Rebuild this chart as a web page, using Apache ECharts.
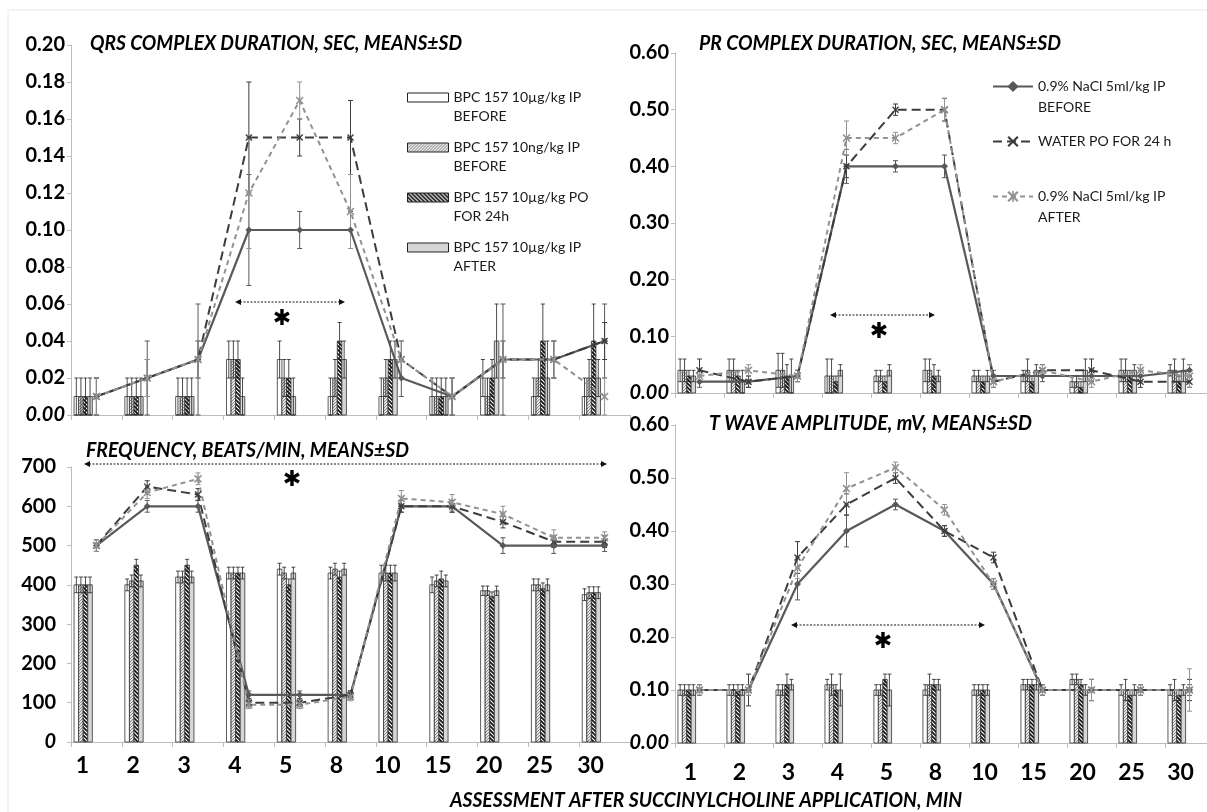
<!DOCTYPE html>
<html><head><meta charset="utf-8">
<script src="https://cdn.jsdelivr.net/npm/echarts@6/dist/echarts.min.js"></script>
<style>html,body{margin:0;padding:0;background:#fff}#c{width:1207px;height:812px}</style>
</head><body><div id="c"></div>
<script>
// ---------------- DATA ----------------
const categories = ['1','2','3','4','5','8','10','15','20','25','30'];
const barNames = ['BPC 157 10µg/kg IP BEFORE','BPC 157 10ng/kg IP BEFORE','BPC 157 10µg/kg PO FOR 24h','BPC 157 10µg/kg IP AFTER'];
const lineNames = ['0.9% NaCl 5ml/kg IP BEFORE','WATER PO FOR 24 h','0.9% NaCl 5ml/kg IP AFTER'];
const legendText = {
  'BPC 157 10µg/kg IP BEFORE':'\nBPC 157 10µg/kg IP\nBEFORE',
  'BPC 157 10ng/kg IP BEFORE':'\nBPC 157 10ng/kg IP\nBEFORE',
  'BPC 157 10µg/kg PO FOR 24h':'\nBPC 157 10µg/kg PO\nFOR 24h',
  'BPC 157 10µg/kg IP AFTER':'\nBPC 157 10µg/kg IP\nAFTER',
  '0.9% NaCl 5ml/kg IP BEFORE':'\n0.9% NaCl 5ml/kg IP\nBEFORE',
  'WATER PO FOR 24 h':'WATER PO FOR 24 h',
  '0.9% NaCl 5ml/kg IP AFTER':'\n0.9% NaCl 5ml/kg IP\nAFTER'
};
const panelTitles = ['QRS COMPLEX DURATION, SEC, MEANS±SD','PR COMPLEX DURATION, SEC, MEANS±SD','FREQUENCY, BEATS/MIN, MEANS±SD','T WAVE AMPLITUDE, mV, MEANS±SD'];
const xAxisTitle = 'ASSESSMENT AFTER SUCCINYLCHOLINE APPLICATION, MIN';

// QRS duration (sec)
const qrsBar1 = [0.01,0.01,0.01,0.03,0.03,0.01,0.01,0.01,0.02,0.01,0.01];
const qrsBar1Sd = [0.01,0.01,0.01,0.01,0.01,0.01,0.01,0.01,0.01,0.01,0.01];
const qrsBar2 = [0.01,0.01,0.01,0.03,0.02,0.02,0.02,0.01,0.01,0.02,0.02];
const qrsBar2Sd = [0.01,0.01,0.01,0.01,0.01,0.01,0.01,0.01,0.01,0.01,0.01];
const qrsBar3 = [0.01,0.01,0.01,0.03,0.02,0.04,0.03,0.01,0.02,0.04,0.04];
const qrsBar3Sd = [0.01,0.01,0.01,0.01,0.01,0.01,0.01,0.01,0.01,0.02,0.02];
const qrsBar4 = [0.01,0.01,0.01,0.01,0.01,0.03,0.03,0.01,0.04,0.02,0.02];
const qrsBar4Sd = [0.01,0.01,0.01,0.01,0.01,0.01,0.01,0.01,0.02,0.02,0.01];
const qrsLine1 = [0.01,0.02,0.03,0.10,0.10,0.10,0.02,0.01,0.03,0.03,0.04];
const qrsLine1Sd = [0.01,0.02,0.03,0.03,0.01,0.01,0.01,0.01,0.03,0.01,0.02];
const qrsLine2 = [0.01,0.02,0.03,0.15,0.15,0.15,0.03,0.01,0.03,0.03,0.04];
const qrsLine2Sd = [0.01,0.01,0.01,0.03,0.01,0.02,0.01,0.01,0.01,0.01,0.01];
const qrsLine3 = [0.01,0.02,0.03,0.12,0.17,0.11,0.03,0.01,0.03,0.03,0.01];
const qrsLine3Sd = [0.01,0.01,0.01,0.03,0.01,0.02,0.01,0.01,0.01,0.01,0.01];

// PR duration (sec)
const prBar1 = [0.04,0.04,0.04,0.03,0.03,0.04,0.03,0.03,0.02,0.04,0.04];
const prBar1Sd = [0.02,0.02,0.03,0.03,0.01,0.02,0.01,0.01,0.01,0.02,0.01];
const prBar2 = [0.04,0.04,0.04,0.03,0.03,0.04,0.03,0.04,0.02,0.04,0.04];
const prBar2Sd = [0.02,0.02,0.03,0.03,0.01,0.02,0.01,0.02,0.01,0.02,0.02];
const prBar3 = [0.03,0.03,0.03,0.02,0.02,0.03,0.02,0.02,0.01,0.03,0.02];
const prBar3Sd = [0.01,0.01,0.02,0.01,0.01,0.02,0.01,0.01,0.01,0.01,0.01];
const prBar4 = [0.03,0.02,0.03,0.04,0.04,0.03,0.03,0.04,0.04,0.04,0.04];
const prBar4Sd = [0.01,0.02,0.03,0.01,0.01,0.01,0.01,0.01,0.02,0.01,0.02];
const prLine1 = [0.02,0.02,0.03,0.40,0.40,0.40,0.03,0.03,0.03,0.03,0.04];
const prLine1Sd = [0.01,0.01,0.01,0.03,0.01,0.02,0.01,0.01,0.01,0.01,0.01];
const prLine2 = [0.04,0.02,0.03,0.40,0.50,0.50,0.02,0.04,0.04,0.02,0.02];
const prLine2Sd = [0.02,0.01,0.01,0.02,0.01,0.02,0.01,0.01,0.02,0.01,0.01];
const prLine3 = [0.03,0.04,0.03,0.45,0.45,0.50,0.02,0.04,0.02,0.04,0.03];
const prLine3Sd = [0.01,0.01,0.01,0.03,0.01,0.02,0.01,0.01,0.01,0.01,0.02];

// Frequency (beats/min)
const frBar1 = [400,400,420,430,440,430,430,400,385,400,375];
const frBar1Sd = [20,15,15,15,15,15,20,20,12,15,15];
const frBar2 = [400,410,420,430,430,440,430,410,385,400,380];
const frBar2Sd = [20,15,15,15,15,15,20,15,12,15,15];
const frBar3 = [400,450,450,430,400,420,430,415,370,390,380];
const frBar3Sd = [20,15,15,15,15,15,20,20,12,15,15];
const frBar4 = [400,410,420,430,430,440,430,410,385,400,380];
const frBar4Sd = [20,15,15,15,15,15,20,15,12,15,15];
const frLine1 = [500,600,600,120,120,120,600,600,500,500,500];
const frLine1Sd = [15,15,15,10,10,10,15,15,20,20,15];
const frLine2 = [500,650,630,100,100,120,600,600,560,510,510];
const frLine2Sd = [15,15,15,10,10,10,15,15,15,15,15];
const frLine3 = [500,635,670,95,95,115,620,610,580,520,520];
const frLine3Sd = [15,15,15,10,10,10,20,20,20,20,15];

// T wave amplitude (mV)
const twBar1 = [0.10,0.10,0.10,0.11,0.10,0.10,0.10,0.11,0.12,0.10,0.10];
const twBar1Sd = [0.01,0.01,0.01,0.01,0.01,0.01,0.01,0.01,0.01,0.01,0.01];
const twBar2 = [0.10,0.10,0.10,0.11,0.10,0.11,0.10,0.11,0.12,0.10,0.10];
const twBar2Sd = [0.01,0.01,0.01,0.02,0.01,0.02,0.01,0.01,0.01,0.02,0.02];
const twBar3 = [0.10,0.10,0.11,0.10,0.12,0.11,0.10,0.11,0.11,0.09,0.09];
const twBar3Sd = [0.01,0.01,0.02,0.01,0.01,0.01,0.01,0.01,0.01,0.01,0.01];
const twBar4 = [0.10,0.10,0.11,0.10,0.10,0.11,0.10,0.11,0.10,0.10,0.10];
const twBar4Sd = [0.01,0.01,0.01,0.03,0.03,0.01,0.01,0.01,0.01,0.01,0.01];
const twLine1 = [0.10,0.10,0.30,0.40,0.45,0.40,0.30,0.10,0.10,0.10,0.10];
const twLine1Sd = [0.01,0.01,0.03,0.03,0.01,0.01,0.01,0.01,0.02,0.01,0.01];
const twLine2 = [0.10,0.10,0.35,0.45,0.50,0.40,0.35,0.10,0.10,0.10,0.10];
const twLine2Sd = [0.01,0.03,0.03,0.02,0.01,0.01,0.01,0.01,0.02,0.01,0.02];
const twLine3 = [0.10,0.10,0.33,0.48,0.52,0.44,0.30,0.10,0.10,0.10,0.10];
const twLine3Sd = [0.01,0.01,0.02,0.03,0.01,0.01,0.01,0.01,0.02,0.01,0.04];

// ---------------- STYLE / LAYOUT ----------------
function hatch(bg, fg, lw, step, dir) {
  const c = document.createElement('canvas'); c.width = step; c.height = step;
  const g = c.getContext('2d'); g.fillStyle = bg; g.fillRect(0, 0, step, step);
  g.strokeStyle = fg; g.lineWidth = lw; g.beginPath();
  if (dir > 0) {
    g.moveTo(0, step); g.lineTo(step, 0);
    g.moveTo(-step, step); g.lineTo(step, -step);
    g.moveTo(0, 2 * step); g.lineTo(2 * step, 0);
  } else {
    g.moveTo(0, 0); g.lineTo(step, step);
    g.moveTo(-step, 0); g.lineTo(step, 2 * step);
    g.moveTo(0, -step); g.lineTo(2 * step, step);
  }
  g.stroke();
  return { image: c, repeat: 'repeat' };
}
const barFills = ['#ffffff', hatch('#e4e4e4', '#8a8a8a', 1, 3, 1), hatch('#ffffff', '#111111', 1.6, 4, -1), '#d6d6d6'];
const lineColors = ['#595959', '#3c3c3c', '#929292'];
const lineDash = ['solid', [9, 5], [5, 4]];
const symX = 'path://M0,1.4L1.4,0L5,3.6L8.6,0L10,1.4L6.4,5L10,8.6L8.6,10L5,6.4L1.4,10L0,8.6L3.6,5Z';
const symStar = 'path://M0,1.4L1.4,0L5,3.6L8.6,0L10,1.4L6.4,5L10,8.6L8.6,10L5,6.4L1.4,10L0,8.6L3.6,5Z M4.3,0L5.7,0L5.7,10L4.3,10Z';
const lineSymbols = ['diamond', symX, symStar];
const lineSymbolSize = [7, 7, 8];

const grids = [
  { left: 71, top: 45, width: 559, height: 370 },
  { left: 675, top: 53, width: 539, height: 340 },
  { left: 71, top: 467, width: 559, height: 275 },
  { left: 675, top: 425, width: 539, height: 318 }
];
const panels = [
  { max: 0.2, interval: 0.02, dec: 2, bars: [qrsBar1, qrsBar2, qrsBar3, qrsBar4], barSd: [qrsBar1Sd, qrsBar2Sd, qrsBar3Sd, qrsBar4Sd], lines: [qrsLine1, qrsLine2, qrsLine3], lineSd: [qrsLine1Sd, qrsLine2Sd, qrsLine3Sd] },
  { max: 0.6, interval: 0.1, dec: 2, bars: [prBar1, prBar2, prBar3, prBar4], barSd: [prBar1Sd, prBar2Sd, prBar3Sd, prBar4Sd], lines: [prLine1, prLine2, prLine3], lineSd: [prLine1Sd, prLine2Sd, prLine3Sd] },
  { max: 700, interval: 100, dec: 0, bars: [frBar1, frBar2, frBar3, frBar4], barSd: [frBar1Sd, frBar2Sd, frBar3Sd, frBar4Sd], lines: [frLine1, frLine2, frLine3], lineSd: [frLine1Sd, frLine2Sd, frLine3Sd] },
  { max: 0.6, interval: 0.1, dec: 2, bars: [twBar1, twBar2, twBar3, twBar4], barSd: [twBar1Sd, twBar2Sd, twBar3Sd, twBar4Sd], lines: [twLine1, twLine2, twLine3], lineSd: [twLine1Sd, twLine2Sd, twLine3Sd] }
];

const FONT = 'Lato';
const xAxes = [], yAxes = [], series = [];
panels.forEach((p, gi) => {
  const bottom = gi >= 2;
  xAxes.push({
    type: 'category', gridIndex: gi, data: categories, boundaryGap: true,
    axisLine: { show: true, lineStyle: { color: '#bdbdbd', width: 1 } },
    axisTick: { show: true, length: 5, lineStyle: { color: '#bdbdbd' } },
    axisLabel: {
      show: bottom, interval: 0, color: '#000', fontFamily: FONT, fontWeight: 'bold', fontSize: 23,
      margin: gi === 2 ? 12 : 18, padding: gi === 2 ? [0, 28, 0, 0] : [0, 18, 0, 0]
    },
    splitLine: { show: false }
  });
  yAxes.push({
    type: 'value', gridIndex: gi, min: 0, max: p.max, interval: p.interval,
    axisLine: { show: true, lineStyle: { color: '#bdbdbd', width: 1 } },
    axisTick: { show: true, length: 4, lineStyle: { color: '#bdbdbd' } },
    splitLine: { show: false },
    axisLabel: {
      color: '#000', fontFamily: FONT, fontWeight: 'bold', fontSize: 20,
      margin: gi === 2 ? 15 : 6,
      formatter: v => v === 0 ? '{it|' + (0).toFixed(p.dec) + '}' : v.toFixed(p.dec),
      rich: { it: { fontStyle: 'italic', fontWeight: 'bold', fontFamily: FONT, fontSize: 20, color: '#000' } }
    }
  });
  p.bars.forEach((vals, k) => {
    const sds = p.barSd[k];
    const fill = barFills[k];
    series.push({
      type: 'custom', name: barNames[k], xAxisIndex: gi, yAxisIndex: gi, z: 2, silent: true,
      itemStyle: { color: fill, borderColor: '#333', borderWidth: 0.8 },
      encode: { x: 0, y: 1 },
      data: vals.map((v, i) => [i, v, sds[i]]),
      renderItem(params, api) {
        const i = api.value(0), v = api.value(1), sd = api.value(2);
        const band = api.size([1, 0])[0];
        const base = api.coord([i, 0]);
        const top = api.coord([i, v]);
        const bw = band * 0.09;
        const x0 = base[0] - band / 2 + band * 0.06 + k * bw;
        const cx = x0 + bw / 2;
        const yHi = api.coord([i, v + sd])[1];
        const yLo = api.coord([i, Math.max(v - sd, 0)])[1];
        const es = { stroke: '#1e1e1e', lineWidth: 0.8 };
        return { type: 'group', children: [
          { type: 'rect', shape: { x: x0, y: top[1], width: bw, height: base[1] - top[1] }, style: { fill: fill, stroke: '#333', lineWidth: 0.8 } },
          { type: 'line', shape: { x1: cx, y1: yHi, x2: cx, y2: yLo }, style: es },
          { type: 'line', shape: { x1: cx - 2, y1: yHi, x2: cx + 2, y2: yHi }, style: es },
          { type: 'line', shape: { x1: cx - 2, y1: yLo, x2: cx + 2, y2: yLo }, style: es }
        ] };
      }
    });
  });
  p.lines.forEach((vals, k) => {
    series.push({
      type: 'line', name: lineNames[k], xAxisIndex: gi, yAxisIndex: gi, z: 5, silent: true,
      data: vals, symbol: lineSymbols[k], symbolSize: lineSymbolSize[k], showSymbol: true,
      lineStyle: { color: lineColors[k], width: k === 0 ? 2.2 : 2, type: lineDash[k] },
      itemStyle: { color: lineColors[k] }
    });
  });
  p.lines.forEach((vals, k) => {
    const sds = p.lineSd[k];
    const col = lineColors[k];
    series.push({
      type: 'custom', name: lineNames[k], xAxisIndex: gi, yAxisIndex: gi, z: 4, silent: true,
      itemStyle: { color: col }, encode: { x: 0, y: 1 },
      data: vals.map((v, i) => [i, v, sds[i]]),
      renderItem(params, api) {
        const i = api.value(0), v = api.value(1), sd = api.value(2);
        const c = api.coord([i, v]);
        const hi = api.coord([i, v + sd])[1];
        const lo = api.coord([i, Math.max(v - sd, 0)])[1];
        const st = { stroke: col, lineWidth: 1 };
        return { type: 'group', children: [
          { type: 'line', shape: { x1: c[0], y1: hi, x2: c[0], y2: lo }, style: st },
          { type: 'line', shape: { x1: c[0] - 2.5, y1: hi, x2: c[0] + 2.5, y2: hi }, style: st },
          { type: 'line', shape: { x1: c[0] - 2.5, y1: lo, x2: c[0] + 2.5, y2: lo }, style: st }
        ] };
      }
    });
  });
});

// text helpers
const mctx = document.createElement('canvas').getContext('2d');
function fitText(text, x, y, w, font) {
  mctx.font = font;
  const mw = mctx.measureText(text).width || w;
  return { type: 'text', x: x, y: y, scaleX: w / mw, z: 10, silent: true,
    style: { text: text, font: font, fill: '#000', align: 'left', verticalAlign: 'middle' } };
}
function arrow(x1, x2, y) {
  return { type: 'group', silent: true, z: 10, children: [
    { type: 'line', shape: { x1: x1 + 5, y1: y, x2: x2 - 5, y2: y }, style: { stroke: '#111', lineWidth: 1, lineDash: [2, 1.5] } },
    { type: 'polygon', shape: { points: [[x1, y], [x1 + 6, y - 3], [x1 + 6, y + 3]] }, style: { fill: '#111' } },
    { type: 'polygon', shape: { points: [[x2, y], [x2 - 6, y - 3], [x2 - 6, y + 3]] }, style: { fill: '#111' } }
  ] };
}
function star(x, y) {
  return { type: 'text', x: x, y: y, silent: true, z: 10,
    style: { text: '✱', font: 'bold 22px "DejaVu Sans"', fill: '#000', align: 'center', verticalAlign: 'middle' } };
}
const TF = 'italic bold 21px Lato';
const graphics = [
  { type: 'rect', shape: { x: 8, y: 10, width: 1240, height: 840 }, style: { fill: 'none', stroke: '#e8e8e8', lineWidth: 1 }, z: -10, silent: true },
  fitText(panelTitles[0], 90, 43, 372, TF),
  fitText(panelTitles[1], 699, 43, 362, TF),
  fitText(panelTitles[2], 86, 450, 323, TF),
  fitText(panelTitles[3], 709, 423, 323, TF),
  fitText(xAxisTitle, 450, 800, 512, TF),
  arrow(235, 345, 302), star(282, 319),
  arrow(830, 935, 315), star(879, 332),
  arrow(84, 607, 464), star(292, 480),
  arrow(791, 985, 625), star(883, 642)
];

const chart = echarts.init(document.getElementById('c'), null, { renderer: 'canvas' });
chart.setOption({
  animation: false,
  backgroundColor: '#ffffff',
  grid: grids.map(g => Object.assign({ containLabel: false, outerBoundsMode: 'none' }, g)),
  xAxis: xAxes,
  yAxis: yAxes,
  legend: [
    {
      data: barNames.map(n => ({ name: n })), orient: 'vertical', left: 407, top: 69, padding: 0,
      itemWidth: 41, itemHeight: 9, itemGap: -7, icon: 'rect', selectedMode: false,
      itemStyle: { borderColor: '#222', borderWidth: 1 },
      textStyle: { fontFamily: FONT, fontSize: 14, color: '#1a1a1a', lineHeight: 19 },
      formatter: n => legendText[n]
    },
    {
      data: lineNames.map(n => ({ name: n })),
      orient: 'vertical', left: 992, top: 55, padding: 0,
      itemWidth: 40, itemHeight: 14, itemGap: 13, selectedMode: false,
      textStyle: { fontFamily: FONT, fontSize: 14, color: '#1a1a1a', lineHeight: 21 },
      formatter: n => legendText[n]
    }
  ],
  graphic: graphics,
  series: series
});
</script>
</body></html>
